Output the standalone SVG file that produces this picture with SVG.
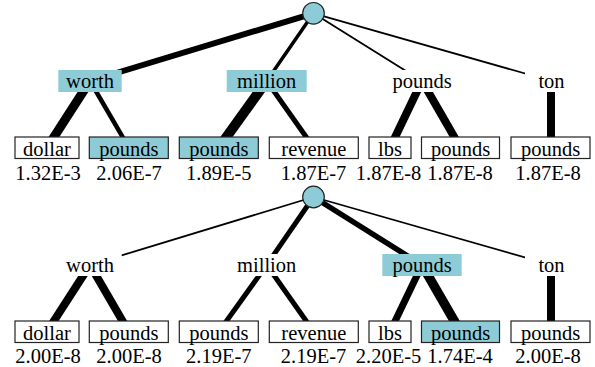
<svg xmlns="http://www.w3.org/2000/svg" width="595" height="367" viewBox="0 0 595 367" font-family="'Liberation Serif', 'Times New Roman', 'DejaVu Serif', serif">
<style>
text{font-family:'Liberation Serif','Times New Roman','DejaVu Serif',serif;font-size:20.5px;fill:#000;text-anchor:middle}
.e{stroke:#000;stroke-linecap:butt;fill:none}
.hl{fill:#8dccd6}
.bg{fill:#fff}
.leaf{fill:#fff;stroke:#222;stroke-width:1.2}
.leaf.hl{fill:#8dccd6}
.root{fill:#8dccd6;stroke:#222;stroke-width:1.2}
</style>
<g id="connectors">
  <line class="e" x1="313.5" y1="13.3" x2="90" y2="81" stroke-width="6"/>
  <line class="e" x1="313.5" y1="13.3" x2="266.7" y2="81" stroke-width="3.5"/>
  <line class="e" x1="313.5" y1="13.3" x2="422" y2="81" stroke-width="1.8"/>
  <line class="e" x1="313.5" y1="13.3" x2="551.5" y2="81" stroke-width="1.8"/>
  <line class="e" x1="90" y1="81" x2="47" y2="147.7" stroke-width="9"/>
  <line class="e" x1="90" y1="81" x2="128.8" y2="147.7" stroke-width="4.5"/>
  <line class="e" x1="266.7" y1="81" x2="218.8" y2="147.7" stroke-width="10"/>
  <line class="e" x1="266.7" y1="81" x2="313.8" y2="147.7" stroke-width="5"/>
  <line class="e" x1="422" y1="81" x2="390" y2="147.7" stroke-width="8"/>
  <line class="e" x1="422" y1="81" x2="460.5" y2="147.7" stroke-width="8"/>
  <line class="e" x1="551" y1="81" x2="551" y2="147.7" stroke-width="8"/>
  <line class="e" x1="313.5" y1="197" x2="90" y2="265" stroke-width="1.8"/>
  <line class="e" x1="313.5" y1="197" x2="266.7" y2="265" stroke-width="5"/>
  <line class="e" x1="313.5" y1="197" x2="422" y2="265" stroke-width="5.5"/>
  <line class="e" x1="313.5" y1="197" x2="551.5" y2="265" stroke-width="1.8"/>
  <line class="e" x1="90" y1="265" x2="47" y2="331.7" stroke-width="8"/>
  <line class="e" x1="90" y1="265" x2="128.8" y2="331.7" stroke-width="8"/>
  <line class="e" x1="266.7" y1="265" x2="218.8" y2="331.7" stroke-width="5"/>
  <line class="e" x1="266.7" y1="265" x2="313.8" y2="331.7" stroke-width="5"/>
  <line class="e" x1="422" y1="265" x2="390" y2="331.7" stroke-width="7"/>
  <line class="e" x1="422" y1="265" x2="460.5" y2="331.7" stroke-width="9.5"/>
  <line class="e" x1="551" y1="265" x2="551" y2="331.7" stroke-width="8"/>
</g>

<g id="root-top"><circle class="root" cx="313.5" cy="13.3" r="10.8"/></g>
<g id="top-worth"><rect class="hl" x="58.3" y="70" width="63.4" height="22"/><text x="90" y="87.5">worth</text></g>
<g id="top-million"><rect class="hl" x="226.7" y="70" width="80" height="22"/><text x="266.7" y="87.5">million</text></g>
<g id="top-pounds"><rect class="bg" x="384" y="70" width="76" height="22"/><text x="422" y="87.5">pounds</text></g>
<g id="top-ton"><rect class="bg" x="525" y="70" width="53" height="22"/><text x="551.5" y="87.5">ton</text></g>

<g id="top-leaf-dollar"><rect class="leaf" x="15" y="137" width="64" height="21.5"/><text x="47" y="156">dollar</text><text x="48" y="180">1.32E-3</text></g>
<g id="top-leaf-pounds1"><rect class="leaf hl" x="89.3" y="137" width="79" height="21.5"/><text x="128.8" y="156">pounds</text><text x="129" y="180">2.06E-7</text></g>
<g id="top-leaf-pounds2"><rect class="leaf hl" x="179.3" y="137" width="79" height="21.5"/><text x="218.8" y="156">pounds</text><text x="218.8" y="180">1.89E-5</text></g>
<g id="top-leaf-revenue"><rect class="leaf" x="269.3" y="137" width="89" height="21.5"/><text x="313.8" y="156">revenue</text><text x="313.5" y="180">1.87E-7</text></g>
<g id="top-leaf-lbs"><rect class="leaf" x="369" y="137" width="42" height="21.5"/><text x="390" y="156">lbs</text><text x="388.5" y="180">1.87E-8</text></g>
<g id="top-leaf-pounds3"><rect class="leaf" x="421.5" y="137" width="78" height="21.5"/><text x="460.5" y="156">pounds</text><text x="460" y="180">1.87E-8</text></g>
<g id="top-leaf-pounds4"><rect class="leaf" x="511" y="137" width="79" height="21.5"/><text x="550.5" y="156">pounds</text><text x="548" y="180">1.87E-8</text></g>

<g id="root-bottom"><circle class="root" cx="313.5" cy="197" r="10.8"/></g>
<g id="bot-worth"><rect class="bg" x="58.3" y="254" width="63.4" height="22"/><text x="90" y="271.5">worth</text></g>
<g id="bot-million"><rect class="bg" x="226.7" y="254" width="80" height="22"/><text x="266.7" y="271.5">million</text></g>
<g id="bot-pounds"><rect class="hl" x="382.3" y="254" width="79.4" height="22"/><text x="422" y="271.5">pounds</text></g>
<g id="bot-ton"><rect class="bg" x="525" y="254" width="53" height="22"/><text x="551.5" y="271.5">ton</text></g>

<g id="bot-leaf-dollar"><rect class="leaf" x="15" y="321" width="64" height="21.5"/><text x="47" y="340">dollar</text><text x="48" y="363">2.00E-8</text></g>
<g id="bot-leaf-pounds1"><rect class="leaf" x="89.3" y="321" width="79" height="21.5"/><text x="128.8" y="340">pounds</text><text x="129" y="363">2.00E-8</text></g>
<g id="bot-leaf-pounds2"><rect class="leaf" x="179.3" y="321" width="79" height="21.5"/><text x="218.8" y="340">pounds</text><text x="218.8" y="363">2.19E-7</text></g>
<g id="bot-leaf-revenue"><rect class="leaf" x="269.3" y="321" width="89" height="21.5"/><text x="313.8" y="340">revenue</text><text x="313.5" y="363">2.19E-7</text></g>
<g id="bot-leaf-lbs"><rect class="leaf" x="369" y="321" width="42" height="21.5"/><text x="390" y="340">lbs</text><text x="388.5" y="363">2.20E-5</text></g>
<g id="bot-leaf-pounds3"><rect class="leaf hl" x="421.5" y="321" width="78" height="21.5"/><text x="460.5" y="340">pounds</text><text x="460" y="363">1.74E-4</text></g>
<g id="bot-leaf-pounds4"><rect class="leaf" x="511" y="321" width="79" height="21.5"/><text x="550.5" y="340">pounds</text><text x="548" y="363">2.00E-8</text></g>
</svg>
